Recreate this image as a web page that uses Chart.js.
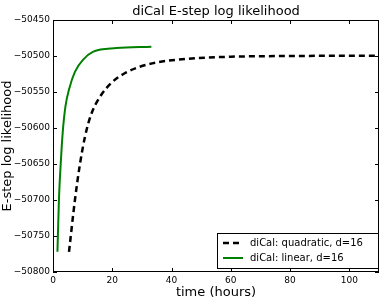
<!DOCTYPE html>
<html><head><meta charset="utf-8">
<script src="https://cdn.jsdelivr.net/npm/chart.js@4"></script>
<style>html,body{margin:0;padding:0;background:#fff}#wrap{width:384px;height:300px}</style>
</head><body><div id="wrap"><canvas id="c" width="384" height="300"></canvas></div>
<script>
const titleText = "diCal E-step log likelihood";
const xTitle = "time (hours)";
const yTitle = "E-step log likelihood";
const quadLabel = "diCal: quadratic, d=16";
const linLabel = "diCal: linear, d=16";
const quadT = [5.4, 7.4, 9.1, 10.8, 12.8, 15.8, 19.8, 24.2, 29.3, 34.9, 45, 60, 80, 110];
const quadV = [-50772, -50700, -50650, -50612, -50582, -50557, -50537, -50524, -50515, -50509, -50504, -50501, -50500, -50499.5];
const linT = [1.5, 2.0, 2.6, 3.3, 4.2, 5.5, 7.4, 10.2, 13.6, 21.4, 33.2];
const linV = [-50772, -50700, -50650, -50605, -50570, -50545, -50522, -50505, -50494, -50489, -50487];
const xTicks = [0, 20, 40, 60, 80, 100];
const yTicks = [-50800, -50750, -50700, -50650, -50600, -50550, -50500, -50450];

const FONT = "'DejaVu Sans', sans-serif";
const toXY = (t, v) => t.map((x, i) => ({x, y: v[i]}));

const framePlugin = {
  id: 'frame',
  afterDraw(chart) {
    const {ctx, chartArea: a, scales} = chart;
    ctx.save();
    ctx.strokeStyle = '#000';
    ctx.lineWidth = 1;
    ctx.strokeRect(a.left + 0.5, a.top + 0.5, a.right - a.left - 1, a.bottom - a.top - 1);
    ctx.beginPath();
    const L = 4;
    xTicks.forEach(t => {
      const px = Math.round(scales.x.getPixelForValue(t)) + 0.5;
      ctx.moveTo(px, a.bottom); ctx.lineTo(px, a.bottom - L);
      ctx.moveTo(px, a.top); ctx.lineTo(px, a.top + L);
    });
    yTicks.forEach(t => {
      const py = Math.round(scales.y.getPixelForValue(t)) + 0.5;
      ctx.moveTo(a.left, py); ctx.lineTo(a.left + L, py);
      ctx.moveTo(a.right, py); ctx.lineTo(a.right - L, py);
    });
    ctx.stroke();
    // title
    ctx.fillStyle = '#000';
    ctx.font = '13px ' + FONT;
    ctx.textAlign = 'center';
    ctx.textBaseline = 'alphabetic';
    ctx.fillText(titleText, (a.left + a.right) / 2, 15);
    // legend
    const bx = 217, by = 233, bw = 161, bh = 35;
    ctx.fillStyle = '#fff';
    ctx.fillRect(bx, by, bw, bh);
    ctx.strokeRect(bx + 0.5, by + 0.5, bw, bh);
    const ds = chart.data.datasets;
    ds.forEach((d, i) => {
      const y = by + 10 + i * 15;
      ctx.beginPath();
      ctx.strokeStyle = d.borderColor;
      ctx.lineWidth = d.borderWidth;
      ctx.setLineDash(d.borderDash || []);
      ctx.moveTo(bx + 6, y); ctx.lineTo(bx + 26, y);
      ctx.stroke();
      ctx.setLineDash([]);
      ctx.fillStyle = '#000';
      ctx.font = '10px ' + FONT;
      ctx.textAlign = 'left';
      ctx.textBaseline = 'middle';
      ctx.fillText(d.label, bx + 33, y);
    });
    ctx.restore();
  }
};

new Chart(document.getElementById('c'), {
  type: 'line',
  data: {
    datasets: [
      {label: quadLabel, data: toXY(quadT, quadV), borderColor: '#000', borderWidth: 2.5, borderDash: [6, 4], pointRadius: 0, cubicInterpolationMode: 'monotone', fill: false},
      {label: linLabel, data: toXY(linT, linV), borderColor: '#008000', borderWidth: 2, pointRadius: 0, cubicInterpolationMode: 'monotone', fill: false}
    ]
  },
  options: {
    responsive: false,
    animation: false,
    layout: {padding: {top: 20, right: 5, left: 0, bottom: 0}},
    plugins: {legend: {display: false}, title: {display: false}, tooltip: {enabled: false}},
    scales: {
      x: {
        type: 'linear', min: 0, max: 110,
        afterBuildTicks: s => { s.ticks = xTicks.map(v => ({value: v})); },
        afterFit: s => { s.height = 28; },
        grid: {display: false, drawTicks: false},
        border: {display: false},
        ticks: {color: '#000', font: {family: FONT, size: 9}, padding: 3, maxRotation: 0},
        title: {display: true, text: xTitle, color: '#000', font: {family: FONT, size: 13}, padding: {top: 0, bottom: 0}}
      },
      y: {
        type: 'linear', min: -50800, max: -50450,
        afterBuildTicks: s => { s.ticks = yTicks.map(v => ({value: v})); },
        afterFit: s => { s.width = 53; },
        grid: {display: false, drawTicks: false},
        border: {display: false},
        ticks: {color: '#000', font: {family: FONT, size: 9}, padding: 3, callback: v => String(v).replace('-', '\u2212')},
        title: {display: true, text: yTitle, color: '#000', font: {family: FONT, size: 13}, padding: {top: 0, bottom: 0}}
      }
    }
  },
  plugins: [framePlugin]
});
</script>
</body></html>
